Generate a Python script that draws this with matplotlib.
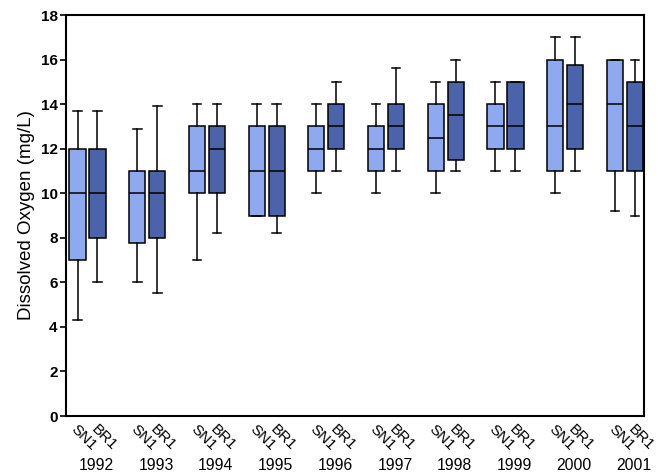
import matplotlib
matplotlib.use("Agg")
import matplotlib.pyplot as plt

years = ["1992", "1993", "1994", "1995", "1996", "1997", "1998", "1999", "2000", "2001"]
sites = ["SN1", "BR1"]

# whisker low, Q1, median, Q3, whisker high
sn1_low = [4.3, 6.0, 7.0, 9.0, 10.0, 10.0, 10.0, 11.0, 10.0, 9.2]
sn1_q1 = [7.0, 7.75, 10.0, 9.0, 11.0, 11.0, 11.0, 12.0, 11.0, 11.0]
sn1_med = [10.0, 10.0, 11.0, 11.0, 12.0, 12.0, 12.5, 13.0, 13.0, 14.0]
sn1_q3 = [12.0, 11.0, 13.0, 13.0, 13.0, 13.0, 14.0, 14.0, 16.0, 16.0]
sn1_high = [13.7, 12.9, 14.0, 14.0, 14.0, 14.0, 15.0, 15.0, 17.0, 16.0]

br1_low = [6.0, 5.5, 8.2, 8.2, 11.0, 11.0, 11.0, 11.0, 11.0, 9.0]
br1_q1 = [8.0, 8.0, 10.0, 9.0, 12.0, 12.0, 11.5, 12.0, 12.0, 11.0]
br1_med = [10.0, 10.0, 12.0, 11.0, 13.0, 13.0, 13.5, 13.0, 14.0, 13.0]
br1_q3 = [12.0, 11.0, 13.0, 13.0, 14.0, 14.0, 15.0, 15.0, 15.75, 15.0]
br1_high = [13.7, 13.9, 14.0, 14.0, 15.0, 15.6, 16.0, 15.0, 17.0, 16.0]

yticks = [0, 2, 4, 6, 8, 10, 12, 14, 16, 18]

light = "#8EA9F0"
dark = "#4A63AB"

plt.rcParams["font.family"] = ["Liberation Sans", "DejaVu Sans"]

fig = plt.figure(figsize=(6.66, 4.76), dpi=100)
ax = fig.add_axes([66 / 666, 1 - 416 / 476, (644 - 66) / 666, (416 - 15) / 476])

offset = 0.167
width = 0.27


def make_stats(low, q1, med, q3, high):
    return [dict(whislo=a, q1=b, med=c, q3=d, whishi=e, fliers=[])
            for a, b, c, d, e in zip(low, q1, med, q3, high)]


n = len(years)
pos_sn = [i - offset for i in range(n)]
pos_br = [i + offset for i in range(n)]

common = dict(widths=width, patch_artist=True, showfliers=False,
              whiskerprops=dict(color="black", linewidth=1.1),
              capprops=dict(color="black", linewidth=1.1),
              medianprops=dict(color="black", linewidth=1.1),
              manage_ticks=False)

b1 = ax.bxp(make_stats(sn1_low, sn1_q1, sn1_med, sn1_q3, sn1_high), positions=pos_sn,
            boxprops=dict(facecolor=light, edgecolor="black", linewidth=1.1), **common)
b2 = ax.bxp(make_stats(br1_low, br1_q1, br1_med, br1_q3, br1_high), positions=pos_br,
            boxprops=dict(facecolor=dark, edgecolor="black", linewidth=1.1), **common)
for cap in b1["caps"] + b2["caps"]:
    xd = cap.get_xdata()
    c = (xd[0] + xd[1]) / 2
    cap.set_xdata([c - width * 0.27, c + width * 0.27])

ax.set_xlim(-0.36, 9.32)
ax.set_ylim(0, 18)
ax.set_yticks(yticks)
ax.set_yticklabels([str(t) for t in yticks], fontsize=11, fontweight="bold")
ax.tick_params(axis="y", direction="out", length=4, width=1.2, pad=2)
ax.set_xticks([])
for s in ax.spines.values():
    s.set_linewidth(1.5)

ax.set_ylabel("Dissolved Oxygen (mg/L)", fontsize=13.5, labelpad=4)

for i in range(n):
    for p, lab in ((pos_sn[i], sites[0]), (pos_br[i], sites[1])):
        ax.text(p - 0.07, -0.5, lab, rotation=-45, rotation_mode="anchor",
                ha="left", va="center", fontsize=11, transform=ax.transData,
                clip_on=False)
    ax.text(i + 0.15, -2.2, years[i], ha="center", va="center", fontsize=11.3,
            transform=ax.transData, clip_on=False)

fig.savefig("out.png", dpi=100)
